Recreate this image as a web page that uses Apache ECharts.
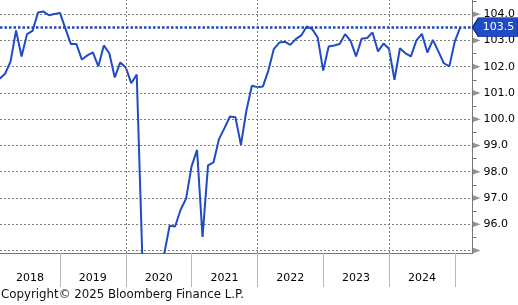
<!DOCTYPE html>
<html>
<head>
<meta charset="utf-8">
<script src="https://cdn.jsdelivr.net/npm/echarts@6/dist/echarts.min.js"></script>
<style>
  html, body { margin: 0; padding: 0; background: #fff; }
  #chart { width: 518px; height: 305px; }
</style>
</head>
<body>
<div id="chart"></div>
<script>
// Monthly index values, Feb 2018 .. Feb 2025 (values below the axis are clipped)
const startYear = 2018;
const startMonth = 2; // February
const values = [
  101.54, 101.73, 102.20, 103.38, 102.39, 103.24, 103.36, 104.06, 104.10, 103.96, 104.01,
  104.05, 103.45, 102.86, 102.86, 102.27, 102.43, 102.54, 102.01, 102.81, 102.51, 101.59, 102.16,
  101.97, 101.37, 101.70, 94.88, 90.5, 91.5, 93.0, 94.85, 95.94, 95.91, 96.55, 96.97,
  98.20, 98.83, 95.51, 98.24, 98.35, 99.24, 99.66, 100.10, 100.07, 99.02, 100.33, 101.27,
  101.22, 101.24, 101.85, 102.67, 102.92, 102.95, 102.83, 103.05, 103.19, 103.53, 103.43, 103.11,
  101.85, 102.77, 102.81, 102.86, 103.24, 102.98, 102.39, 103.06, 103.09, 103.30, 102.58, 102.88,
  102.68, 101.50, 102.70, 102.51, 102.39, 103.00, 103.25, 102.54, 103.02, 102.58, 102.13, 102.01,
  102.96, 103.5
];
const yearLabels = ['2018', '2019', '2020', '2021', '2022', '2023', '2024'];
const yTicks = [95, 96, 97, 98, 99, 100, 101, 102, 103, 104];
const yLabelTicks = [96, 97, 98, 99, 100, 101, 102, 103, 104];
const yMinorTicks = [95.5, 96.5, 97.5, 98.5, 99.5, 100.5, 101.5, 102.5, 103.5, 104.5];
const lastValue = 103.5;

// x positions in "months since Jan 2018"
const X_MIN = 1.07, X_MAX = 87.23, Y_MIN = 94.9, Y_MAX = 104.54;
const lineData = values.map((v, i) => [startMonth - 1 + i, v]);
const yearBounds = yearLabels.map((y, i) => (i + 1) * 12); // 12..84
const yearCenters = yearLabels.map((y, i) => i === 0 ? (X_MIN + 12) / 2 : i * 12 + 6);
const gridYears = [24, 48, 72];

const FONT = 'DejaVu Sans';
const chart = echarts.init(document.getElementById('chart'), null, { renderer: 'canvas' });
chart.setOption({
  animation: false,
  backgroundColor: '#ffffff',
  title: {
    text: 'Copyright\u00a9 2025 Bloomberg Finance L.P.',
    left: 1, top: 289, padding: 0,
    textStyle: { fontFamily: FONT, fontSize: 11.8, fontWeight: 'normal', color: '#111' }
  },
  grid: { left: 0, right: 45, top: 0, height: 253, containLabel: false },
  xAxis: {
    type: 'value', min: X_MIN, max: X_MAX,
    axisLine: { show: true, lineStyle: { color: '#777', width: 1 } },
    axisTick: { show: true, customValues: yearBounds, length: 34, lineStyle: { color: '#b8b8b8', width: 1 } },
    axisLabel: {
      show: true, customValues: yearCenters, margin: 20,
      formatter: v => yearLabels[Math.floor(v / 12)] || '',
      fontFamily: FONT, fontSize: 11, color: '#000'
    },
    splitLine: { show: false }
  },
  yAxis: [{
    type: 'value', position: 'right', min: Y_MIN, max: Y_MAX,
    axisLine: { show: true, lineStyle: { color: '#777', width: 1 } },
    axisTick: { show: false, customValues: yTicks },
    axisLabel: {
      show: true, customValues: yLabelTicks, margin: 11,
      formatter: v => v.toFixed(1),
      fontFamily: FONT, fontSize: 11, color: '#000'
    },
    splitLine: { show: true, lineStyle: { color: '#808080', width: 1, type: [2, 2] } }
  }, {
    type: 'value', position: 'right', min: Y_MIN, max: Y_MAX,
    axisLine: { show: false },
    axisTick: { show: true, customValues: yMinorTicks, length: 4, lineStyle: { color: '#777' } },
    axisLabel: { show: false },
    splitLine: { show: false }
  }],
  series: [{
    type: 'line', z: 1, data: [], silent: true,
    markLine: {
      silent: true, symbol: 'none', label: { show: false },
      lineStyle: { color: '#808080', width: 1, type: [2, 2] },
      data: gridYears.map(x => ({ xAxis: x }))
    }
  }, {
    type: 'line', z: 3, data: lineData, clip: true,
    showSymbol: false, symbol: 'none',
    lineStyle: { color: '#1f4cc6', width: 2 },
    markLine: {
      silent: true, symbol: 'none', label: { show: false },
      lineStyle: { color: '#1f45c0', width: 2.5, type: [2.5, 2] },
      data: [{ yAxis: lastValue }]
    },
    markPoint: {
      silent: true,
      symbol: 'path://M0,9L6,0L46,0L46,18L6,18Z',
      symbolSize: [46, 19], symbolKeepAspect: false, symbolOffset: [23, 0],
      itemStyle: { color: '#1f4cc6', borderColor: '#0b2a7a', borderWidth: 1 },
      label: {
        show: true, position: 'inside', offset: [3, 0],
        formatter: lastValue.toFixed(1),
        fontFamily: FONT, fontSize: 11, color: '#fff'
      },
      data: [{ coord: [X_MAX, lastValue] }]
    }
  }, {
    type: 'scatter', z: 4, clip: false, silent: true,
    symbol: 'triangle', symbolRotate: -90, symbolSize: [6, 8], symbolOffset: [4, 0],
    itemStyle: { color: '#777' },
    data: yTicks.map(v => [X_MAX, v])
  }]
});
</script>
</body>
</html>
